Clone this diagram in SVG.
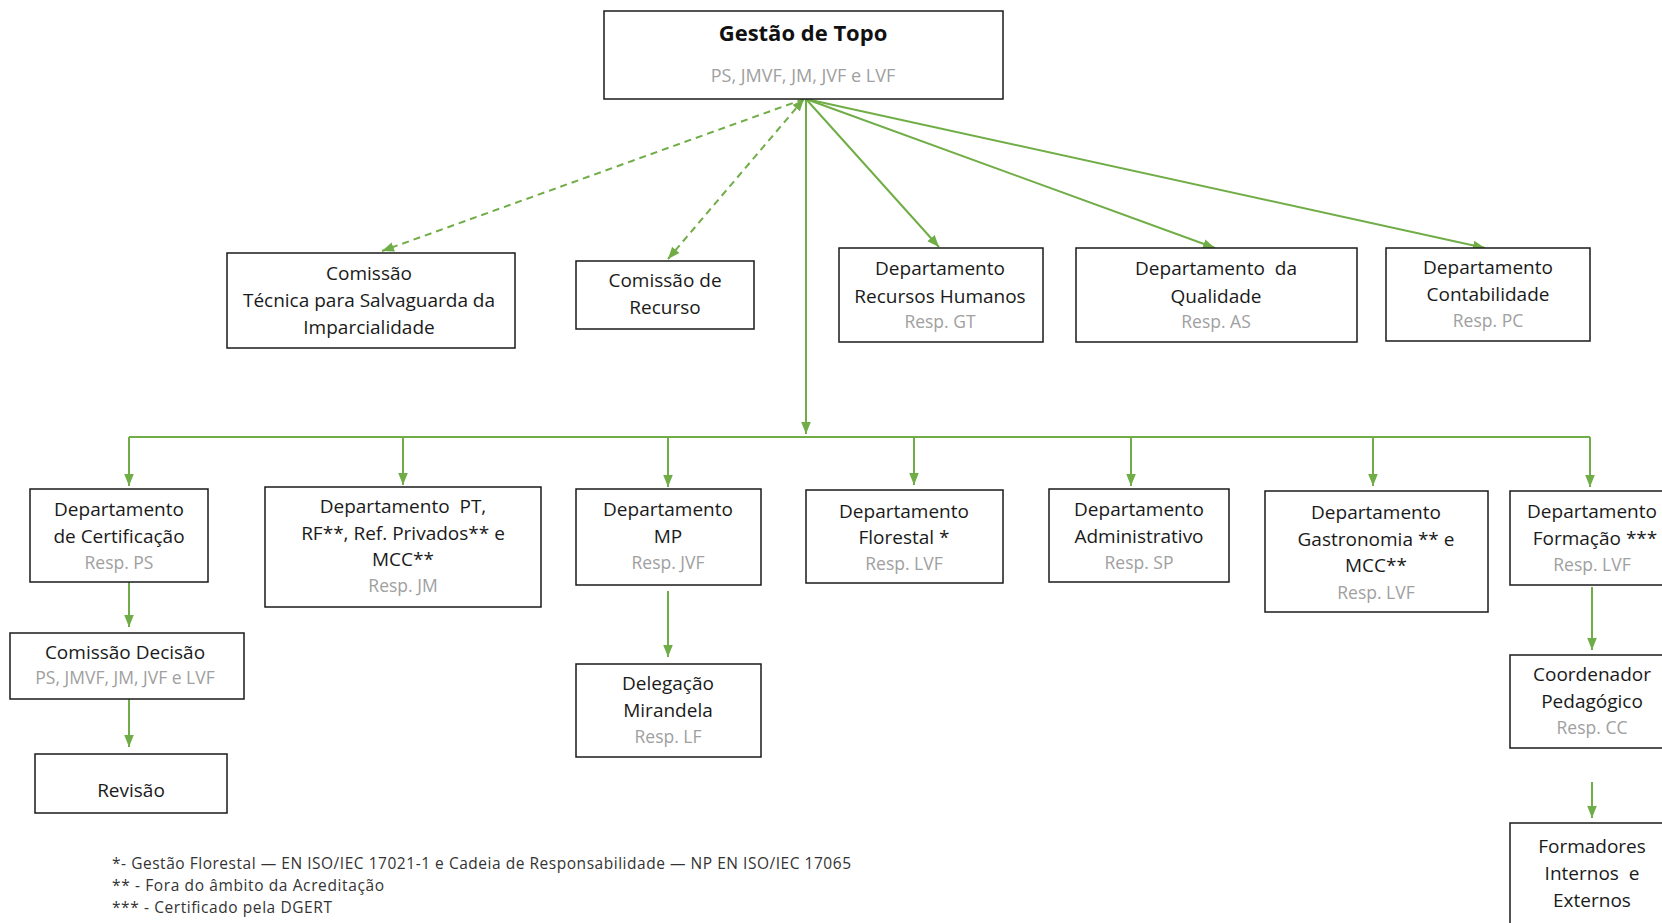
<svg xmlns="http://www.w3.org/2000/svg" width="1662" height="923" viewBox="0 0 1662 923">
<style>
.box{fill:#fff;stroke:#1a1a1a;stroke-width:1.5}
.t{font-family:"Open Sans","Noto Sans",sans-serif;font-size:19px;fill:#1a1a1a;text-anchor:middle}
.g{font-family:"Open Sans","Noto Sans",sans-serif;font-size:17.5px;fill:#a0a0a0;text-anchor:middle}
.h{font-family:"Open Sans","Noto Sans",sans-serif;font-size:22px;font-weight:bold;fill:#111;text-anchor:middle}
.f{font-family:"Open Sans","Noto Sans",sans-serif;font-size:15.5px;fill:#333}
.c{stroke:#70ad47;stroke-width:2;fill:none}
.d{stroke:#70ad47;stroke-width:2;fill:none;stroke-dasharray:7 5}
</style>
<defs>
<marker id="ah2" viewBox="0 0 10 10" refX="10" refY="5" markerWidth="12" markerHeight="12" orient="auto-start-reverse" markerUnits="userSpaceOnUse"><path d="M0,1 L10,5 L0,9 z" fill="#70ad47"/></marker>
</defs>
<rect width="1662" height="923" fill="#fff"/>
<g id="connectors">
<path class="d" d="M804,99 L382,251" marker-end="url(#ah2)"/>
<path class="d" d="M804,99 L668,259" marker-start="url(#ah2)" marker-end="url(#ah2)"/>
<path class="c" d="M806,99 L939,247" marker-end="url(#ah2)"/>
<path class="c" d="M806,99 L1215,248" marker-end="url(#ah2)"/>
<path class="c" d="M806,99 L1485,248" marker-end="url(#ah2)"/>
<path class="c" d="M806,99 L806,434" marker-end="url(#ah2)"/>
<path class="c" d="M129,437 L1590,437"/>
<path class="c" d="M129,437 L129,486" marker-end="url(#ah2)"/>
<path class="c" d="M403,437 L403,485" marker-end="url(#ah2)"/>
<path class="c" d="M668,437 L668,487" marker-end="url(#ah2)"/>
<path class="c" d="M914,437 L914,485" marker-end="url(#ah2)"/>
<path class="c" d="M1131,437 L1131,486" marker-end="url(#ah2)"/>
<path class="c" d="M1373,437 L1373,486" marker-end="url(#ah2)"/>
<path class="c" d="M1590,437 L1590,487" marker-end="url(#ah2)"/>
<path class="c" d="M129,582 L129,627" marker-end="url(#ah2)"/>
<path class="c" d="M129,699 L129,747" marker-end="url(#ah2)"/>
<path class="c" d="M668,591 L668,657" marker-end="url(#ah2)"/>
<path class="c" d="M1592,587 L1592,650" marker-end="url(#ah2)"/>
<path class="c" d="M1592,782 L1592,818" marker-end="url(#ah2)"/>
</g>
<g id="topo">
<rect class="box" x="604" y="11" width="399" height="88"/>
<text class="h" x="803" y="41">Gestão de Topo</text>
<text class="g" x="803" y="82" style="font-size:18px">PS, JMVF, JM, JVF e LVF</text>
</g>
<g id="comissao-tecnica">
<rect class="box" x="227" y="253" width="288" height="95"/>
<text class="t" x="369" y="280">Comissão</text>
<text class="t" x="369" y="307">Técnica para Salvaguarda da</text>
<text class="t" x="369" y="334">Imparcialidade</text>
</g>
<g id="comissao-recurso">
<rect class="box" x="576" y="261" width="178" height="68"/>
<text class="t" x="665" y="287">Comissão de</text>
<text class="t" x="665" y="314">Recurso</text>
</g>
<g id="dep-rh">
<rect class="box" x="839" y="248" width="204" height="94"/>
<text class="t" x="940" y="275">Departamento</text>
<text class="t" x="940" y="303">Recursos Humanos</text>
<text class="g" x="940" y="328">Resp. GT</text>
</g>
<g id="dep-qualidade">
<rect class="box" x="1076" y="248" width="281" height="94"/>
<text class="t" x="1216" y="275" xml:space="preserve">Departamento  da</text>
<text class="t" x="1216" y="303">Qualidade</text>
<text class="g" x="1216" y="328">Resp. AS</text>
</g>
<g id="dep-contabilidade">
<rect class="box" x="1386" y="248" width="204" height="93"/>
<text class="t" x="1488" y="274">Departamento</text>
<text class="t" x="1488" y="301">Contabilidade</text>
<text class="g" x="1488" y="327">Resp. PC</text>
</g>
<g id="dep-certificacao">
<rect class="box" x="30" y="489" width="178" height="93"/>
<text class="t" x="119" y="516">Departamento</text>
<text class="t" x="119" y="543">de Certificação</text>
<text class="g" x="119" y="569">Resp. PS</text>
</g>
<g id="dep-pt">
<rect class="box" x="265" y="487" width="276" height="120"/>
<text class="t" x="403" y="513" xml:space="preserve">Departamento  PT,</text>
<text class="t" x="403" y="540">RF**, Ref. Privados** e</text>
<text class="t" x="403" y="566">MCC**</text>
<text class="g" x="403" y="592">Resp. JM</text>
</g>
<g id="dep-mp">
<rect class="box" x="576" y="489" width="185" height="96"/>
<text class="t" x="668" y="516">Departamento</text>
<text class="t" x="668" y="543">MP</text>
<text class="g" x="668" y="569">Resp. JVF</text>
</g>
<g id="dep-florestal">
<rect class="box" x="806" y="490" width="197" height="93"/>
<text class="t" x="904" y="518">Departamento</text>
<text class="t" x="904" y="544">Florestal *</text>
<text class="g" x="904" y="570">Resp. LVF</text>
</g>
<g id="dep-administrativo">
<rect class="box" x="1049" y="489" width="180" height="93"/>
<text class="t" x="1139" y="516">Departamento</text>
<text class="t" x="1139" y="543">Administrativo</text>
<text class="g" x="1139" y="569">Resp. SP</text>
</g>
<g id="dep-gastronomia">
<rect class="box" x="1265" y="491" width="223" height="121"/>
<text class="t" x="1376" y="519">Departamento</text>
<text class="t" x="1376" y="546">Gastronomia ** e</text>
<text class="t" x="1376" y="572">MCC**</text>
<text class="g" x="1376" y="599">Resp. LVF</text>
</g>
<g id="dep-formacao">
<rect class="box" x="1510" y="491" width="170" height="94"/>
<text class="t" x="1592" y="518">Departamento</text>
<text class="t" x="1595" y="545">Formação ***</text>
<text class="g" x="1592" y="571">Resp. LVF</text>
</g>
<g id="comissao-decisao">
<rect class="box" x="10" y="633" width="234" height="66"/>
<text class="t" x="125" y="659">Comissão Decisão</text>
<text class="g" x="125" y="684">PS, JMVF, JM, JVF e LVF</text>
</g>
<g id="revisao">
<rect class="box" x="35" y="754" width="192" height="59"/>
<text class="t" x="131" y="797">Revisão</text>
</g>
<g id="delegacao">
<rect class="box" x="576" y="664" width="185" height="93"/>
<text class="t" x="668" y="690">Delegação</text>
<text class="t" x="668" y="717">Mirandela</text>
<text class="g" x="668" y="743">Resp. LF</text>
</g>
<g id="coordenador">
<rect class="box" x="1510" y="655" width="170" height="93"/>
<text class="t" x="1592" y="681">Coordenador</text>
<text class="t" x="1592" y="708">Pedagógico</text>
<text class="g" x="1592" y="734">Resp. CC</text>
</g>
<g id="formadores">
<rect class="box" x="1510" y="823" width="170" height="120"/>
<text class="t" x="1592" y="853">Formadores</text>
<text class="t" x="1592" y="880" xml:space="preserve">Internos  e</text>
<text class="t" x="1592" y="907">Externos</text>
</g>
<g id="notas">
<text class="f" x="112" y="869" textLength="739">*- Gestão Florestal — EN ISO/IEC 17021-1 e Cadeia de Responsabilidade — NP EN ISO/IEC 17065</text>
<text class="f" x="112" y="891" textLength="272">** - Fora do âmbito da Acreditação</text>
<text class="f" x="112" y="913" textLength="220">*** - Certificado pela DGERT</text>
</g>
</svg>
